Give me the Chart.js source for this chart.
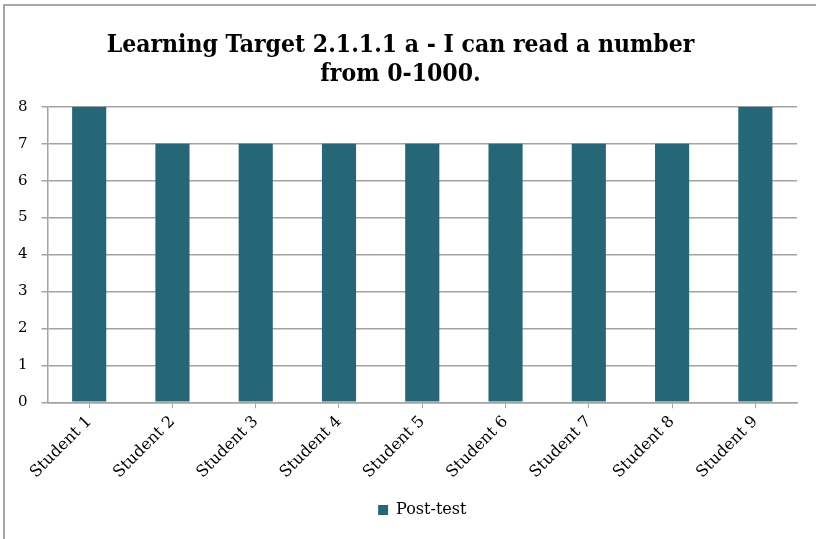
<!DOCTYPE html>
<html>
<head>
<meta charset="utf-8">
<script src="https://cdn.jsdelivr.net/npm/chart.js@4"></script>
<style>
  html, body { margin: 0; padding: 0; background: #fff; }
  #wrap { position: relative; width: 816px; height: 539px; overflow: hidden; }
  #frame { position: absolute; left: 3px; top: 4px; width: 830px; height: 560px; border: 2px solid #a6a6a6; pointer-events: none; }
</style>
</head>
<body>
<div id="wrap">
  <canvas id="chart" width="816" height="539"></canvas>
  <div id="frame"></div>
</div>
<script>
// chart data
const students = ['Student 1', 'Student 2', 'Student 3', 'Student 4', 'Student 5', 'Student 6', 'Student 7', 'Student 8', 'Student 9'];
const postTest = [8, 7, 7, 7, 7, 7, 7, 7, 8];
const titleLines = ['Learning Target 2.1.1.1 a - I can read a number', 'from 0-1000.'];
const seriesName = 'Post-test';

const barColor = '#266777';
const gridColor = '#a3a3a3';
const serif = "'DejaVu Serif', serif";

new Chart(document.getElementById('chart').getContext('2d'), {
    type: 'bar',
    data: {
        labels: students,
        datasets: [{
            label: seriesName,
            data: postTest,
            backgroundColor: barColor,
            borderWidth: 0,
            categoryPercentage: 1,
            barPercentage: 0.41
        }]
    },
    options: {
        responsive: false,
        animation: false,
        layout: { padding: { left: 4, right: 19, top: 0, bottom: 11 } },
        plugins: {
            title: {
                display: true,
                text: titleLines,
                color: '#000',
                font: { family: "'DejaVu Serif Condensed', 'DejaVu Serif', serif", size: 24.5, weight: 'bold' },
                lineHeight: 1.1,
                padding: { top: 31, bottom: 17 }
            },
            legend: {
                position: 'bottom',
                fullSize: false,
                labels: {
                    color: '#000',
                    font: { family: serif, size: 16 },
                    boxWidth: 10,
                    boxHeight: 10,
                    padding: 16
                }
            },
            tooltip: { enabled: false }
        },
        scales: {
            x: {
                grid: { display: true, drawOnChartArea: false, drawTicks: true, tickLength: 6, offset: false, color: gridColor },
                border: { color: gridColor, width: 1.5 },
                ticks: {
                    color: '#000',
                    font: { family: serif, size: 16 },
                    maxRotation: 45,
                    minRotation: 45,
                    padding: 4
                }
            },
            y: {
                min: 0,
                max: 8,
                ticks: {
                    stepSize: 1,
                    color: '#000',
                    font: { family: serif, size: 15 },
                    padding: 14
                },
                grid: { color: gridColor, lineWidth: 1.5, tickLength: 6 },
                border: { color: gridColor, width: 1.5 }
            }
        }
    }
});
</script>
</body>
</html>
